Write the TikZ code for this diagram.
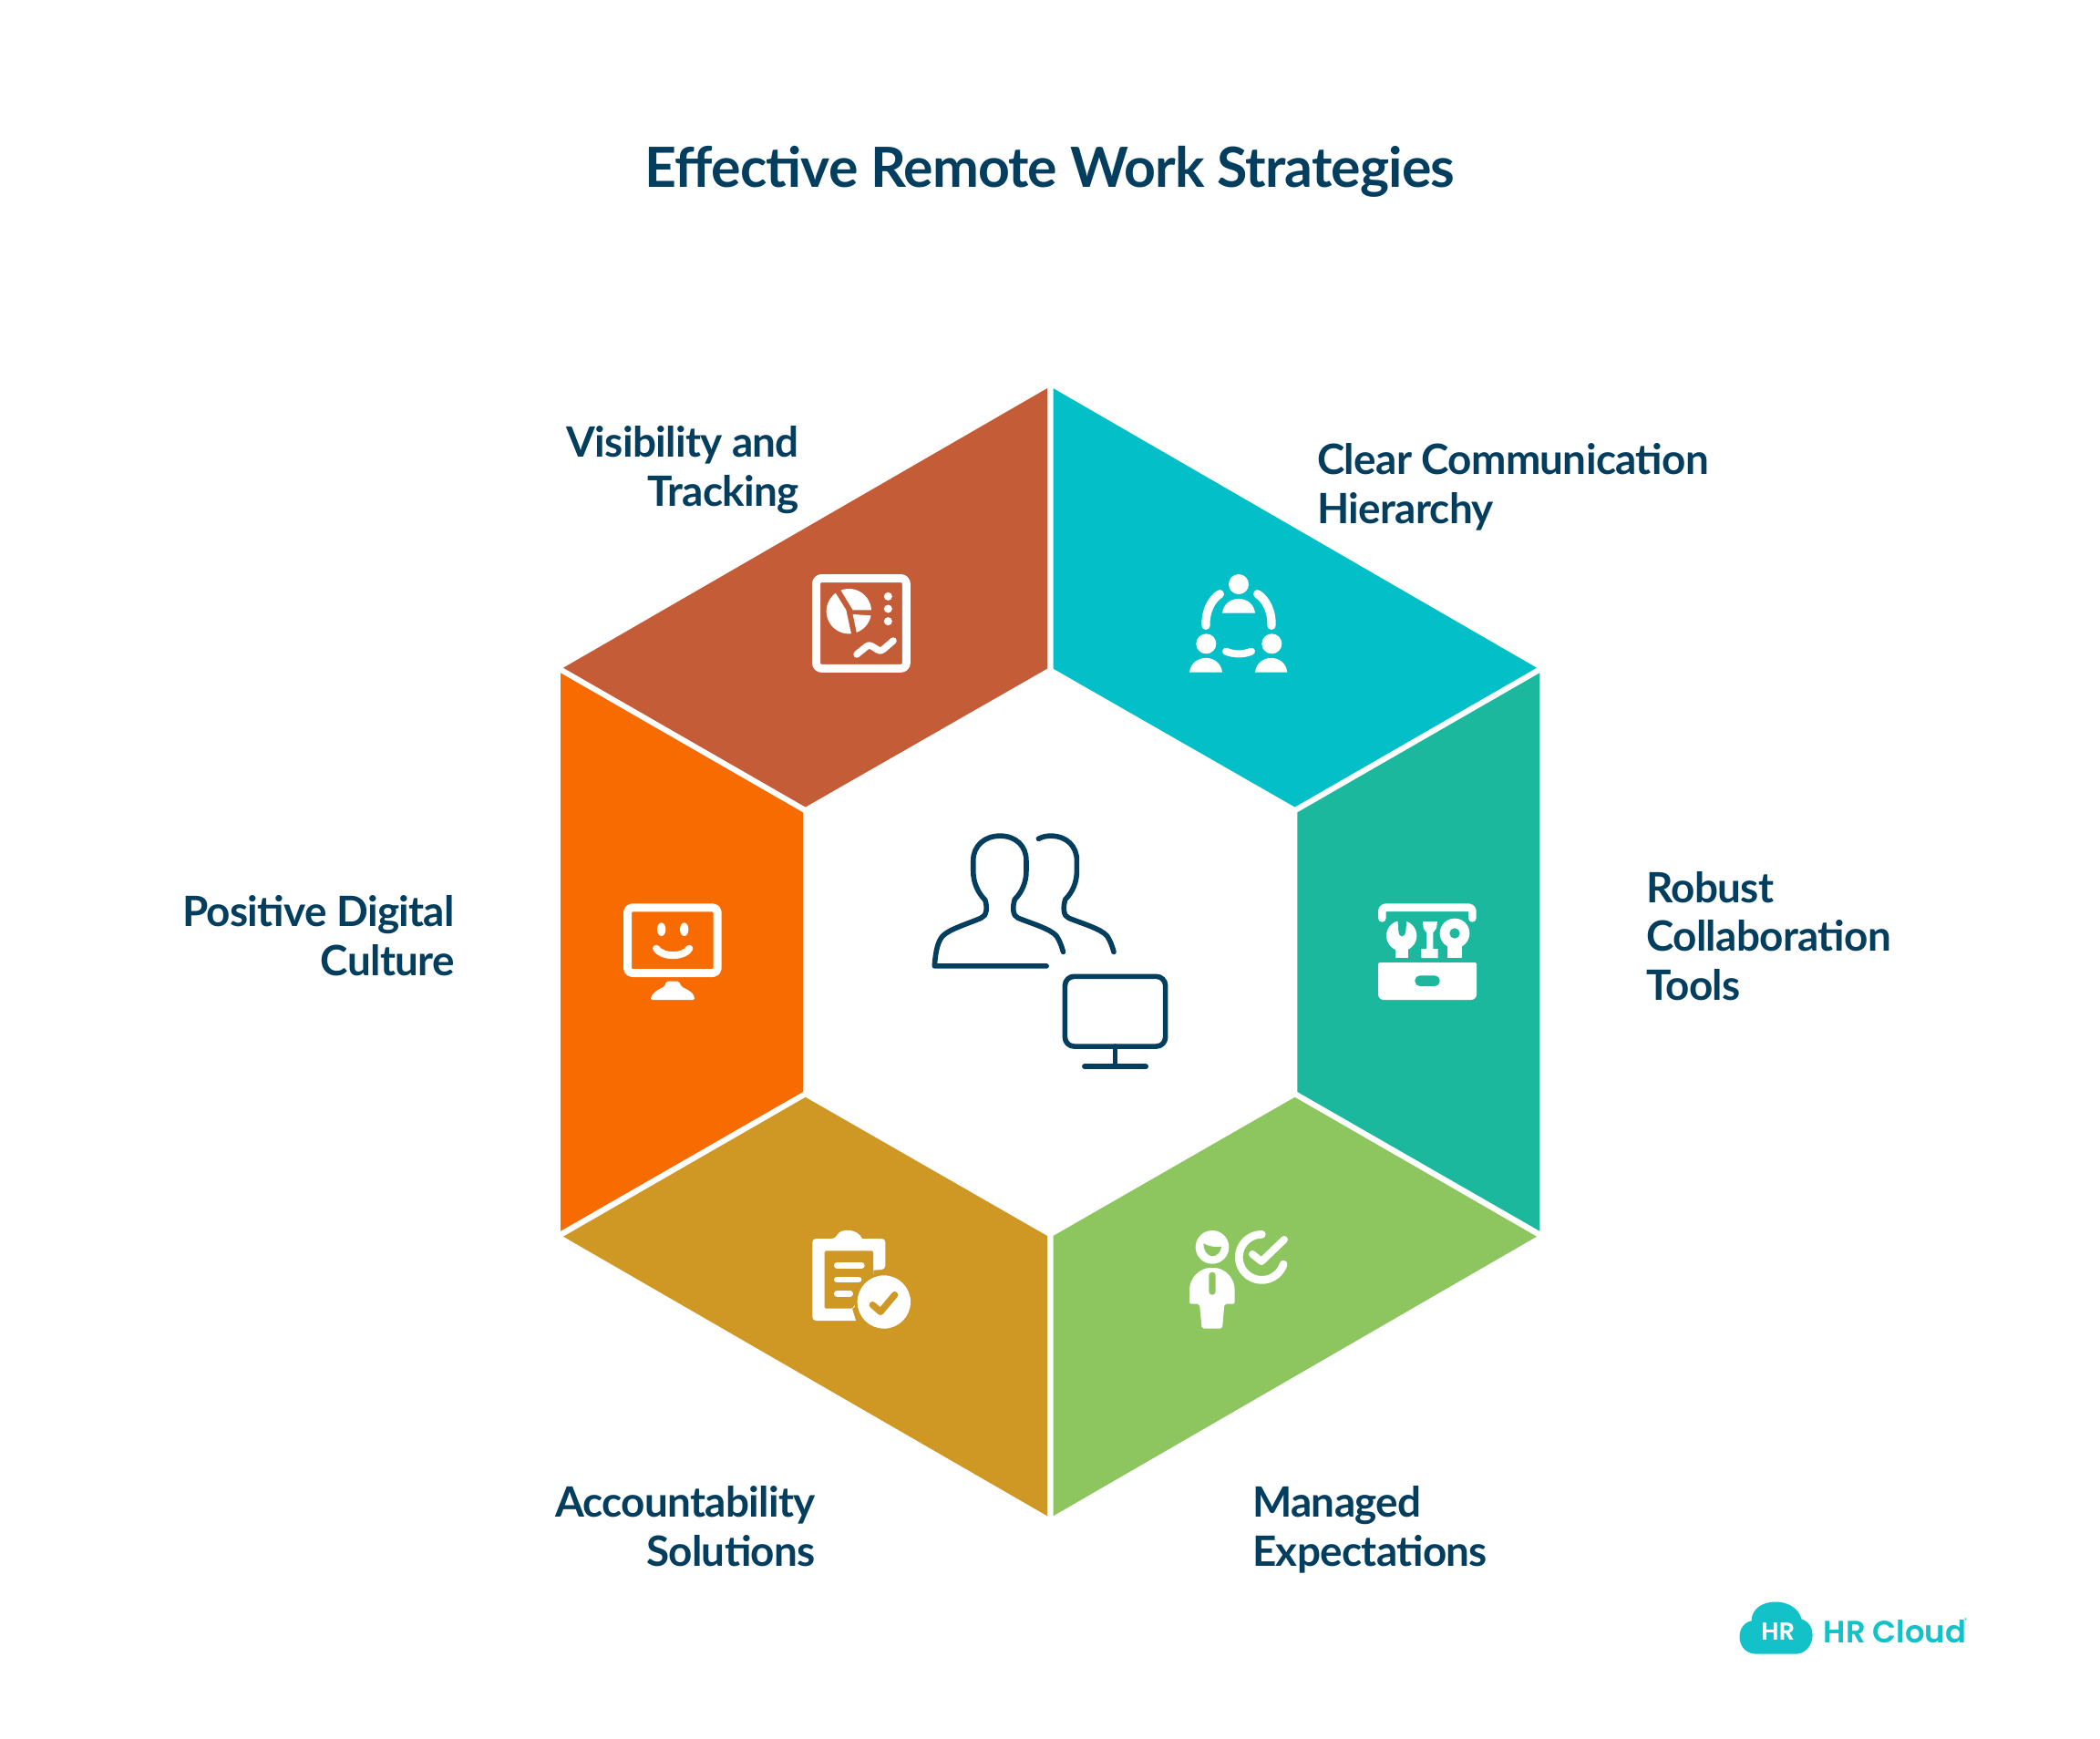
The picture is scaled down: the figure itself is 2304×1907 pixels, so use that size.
\documentclass[tikz,border=0pt]{standalone}
\usepackage{fontspec}
\setmainfont{Lato}[LetterSpace=-1.5]
\newfontfamily\logofont{Poppins}[BoldFont={Poppins SemiBold}]
\definecolor{navy}{HTML}{033E5E}
\definecolor{cBrown}{HTML}{C45C38}
\definecolor{cCyan}{HTML}{03BFC7}
\definecolor{cTeal}{HTML}{1BB89D}
\definecolor{cGreen}{HTML}{8DC55E}
\definecolor{cGold}{HTML}{CF9825}
\definecolor{cOrange}{HTML}{F76B00}
\definecolor{cLogo}{HTML}{12C2C8}
\tikzset{
  lab/.style={font=\fontsize{46}{54}\selectfont\bfseries,text=navy,inner sep=0pt},
  wl/.style={draw=white,line cap=round,line join=round},
  nl/.style={draw=navy,line width=5.6bp,line cap=round,line join=round},
}
\begin{document}
\begin{tikzpicture}[x=1bp,y=-1bp]
\useasboundingbox (0,0) rectangle (2304,1907);
\fill[white] (0,0) rectangle (2304,1907);
% wedges
\fill[cBrown] (1149,426) -- (1149,733.6) -- (883.7,885.5) -- (618,732.7) -- cycle;
\fill[cCyan] (1155.5,426) -- (1686,732.7) -- (1420.6,885.5) -- (1155.5,733.6) -- cycle;
\fill[cTeal] (1689.3,738.3) -- (1689.3,1350.7) -- (1423.3,1197.9) -- (1423.3,891.4) -- cycle;
\fill[cGreen] (1686,1356.7) -- (1155.5,1663.3) -- (1155.5,1356) -- (1420.6,1203.8) -- cycle;
\fill[cGold] (1149,1663.3) -- (1149,1356) -- (883.7,1203.8) -- (618,1356.7) -- cycle;
\fill[cOrange] (881,891.4) -- (881,1197.9) -- (615,1350.7) -- (615,738.3) -- cycle;
% title and labels
\node[font=\fontsize{61}{70}\selectfont\bfseries,text=navy,inner sep=0pt] (title) at (1152,188) {Effective Remote Work Strategies};
\node[lab,anchor=west,align=left] (l1) at (1445,534) {Clear Communication\\Hierarchy};
\node[lab,anchor=west,align=left] (l2) at (1806,1027) {Robust\\Collaboration\\Tools};
\node[lab,anchor=west,align=left] (l3) at (1374,1678) {Managed\\Expectations};
\node[lab,anchor=east,align=right] (l4) at (895,1675) {Accountability\\Solutions};
\node[lab,anchor=east,align=right] (l5) at (499,1027) {Positive Digital\\Culture};
\node[lab,anchor=east,align=right] (l6) at (877,516) {Visibility and\\Tracking};
% centre icon
\begin{scope}[shift={(860,600)},x=0.38265bp,y=0.39541bp*-1]
\draw[nl] (753,1163) -- (432,1163) .. controls (435,1120) and (442,1095) .. (455,1080) .. controls (475,1060) and (530,1045) .. (565,1030) .. controls (582,1025) and (584,1000) .. (577,980) .. controls (555,958) and (543,930) .. (543,900) -- (543,870) .. controls (543,830) and (575,802) .. (620,802) .. controls (665,802) and (695,830) .. (695,870) -- (695,900) .. controls (695,930) and (683,958) .. (662,978) .. controls (655,1000) and (656,1025) .. (672,1030) .. controls (710,1045) and (765,1060) .. (782,1080) .. controls (792,1095) and (797,1110) .. (801,1124);
\draw[nl] (730,810) .. controls (742,804) and (753,802) .. (765,802) .. controls (810,802) and (840,830) .. (840,870) -- (840,900) .. controls (840,930) and (828,958) .. (807,978) .. controls (800,1000) and (801,1025) .. (817,1030) .. controls (855,1045) and (910,1060) .. (927,1080) .. controls (937,1095) and (942,1110) .. (946,1124);
\draw[nl,rounded corners=10bp] (806,1192) rectangle (1094,1386);
\draw[nl] (950,1386) -- (950,1442);
\draw[nl] (862,1442) -- (1038,1442);
\end{scope}
% brown icon
\begin{scope}[shift={(860,610)},x=0.33333bp,y=-0.33333bp]
\draw[wl,line width=9bp,rounded corners=6bp] (106.5,73.5) rectangle (403,370);
\fill[white] (205,178) -- plot[domain=234:84,samples=30] ({214+74*cos(\x)},{182+74*sin(\x)}) -- cycle;
\fill[white] (227,178) -- plot[domain=249:357,samples=30] ({214+74*cos(\x)},{182+74*sin(\x)}) -- cycle;
\fill[white] (227,192) -- plot[domain=11:70,samples=20] ({214+74*cos(\x)},{182+74*sin(\x)}) -- cycle;
\fill[white] (343,133) circle[radius=13.5] (343,174) circle[radius=13.5] (343,215) circle[radius=13.5];
\draw[wl,line width=7.5bp] plot[smooth,tension=.6] coordinates {(240,324) (262,306) (280,294) (298,302) (318,312) (338,298) (360,279)};
\end{scope}
% cyan icon
\begin{scope}[shift={(1280,610)},x=0.33333bp,y=-0.33333bp]
\fill[white] (237,93) circle[radius=33] (130,289) circle[radius=33] (346,289) circle[radius=33];
\fill[white] (183,188) .. controls (190,125) and (284,125) .. (291,188) -- cycle;
\fill[white] (75,383) .. controls (82,320) and (176,320) .. (183,383) -- cycle;
\fill[white] (291,383) .. controls (298,320) and (390,320) .. (397,383) -- cycle;
\draw[wl,line width=9.3bp] (129,229) .. controls (127,185) and (145,145) .. (175,125);
\draw[wl,line width=9.3bp] (345,229) .. controls (347,185) and (329,145) .. (299,125);
\draw[wl,line width=8bp] (195,314) .. controls (222,325) and (252,325) .. (279,314);
\end{scope}
% teal icon
\begin{scope}[shift={(1490,970)},x=0.33333bp,y=-0.33333bp]
\draw[wl,line width=8.7bp,rounded corners=4bp] (79,112) -- (79,77) -- (376,77) -- (376,112);
\fill[white,rounded corners=1.5bp] (66,258) -- (390,258) -- (390,300) [rounded corners=6bp] -- (390,381) -- (66,381) [rounded corners=1.5bp] -- cycle;
\fill[cTeal,rounded corners=5.5bp] (187,301) rectangle (269,336);
\fill[white] (143,170) circle[radius=50];
\fill[white] (124,200) rectangle (164,243);
\fill[cTeal] (130,115) -- (133,155) .. controls (135,178) and (153,178) .. (157,155) -- (160,115) -- cycle;
\fill[white] (213,123) -- (261,123) -- (258,145) -- (247,160) -- (247,213) -- (263,213) -- (263,243) -- (208,243) -- (208,213) -- (225,213) -- (225,160) -- (215,145) -- cycle;
\fill[white] (318,162) circle[radius=49];
\fill[white] (295,195) rectangle (343,243);
\fill[cTeal] (318,162) circle[radius=17];
\end{scope}
% green icon
\begin{scope}[shift={(1280,1330)},x=0.33333bp,y=-0.33333bp]
\fill[white] (150,115) circle[radius=55];
\fill[cGreen] (121,103) .. controls (138,112) and (160,117) .. (180,113) .. controls (180,130) and (165,145) .. (150,145) .. controls (135,145) and (120,125) .. (121,103) -- cycle;
\fill[white,rounded corners=2bp] (75,302) -- (75,262) .. controls (75,215) and (110,183) .. (150,183) .. controls (190,183) and (224,215) .. (224,262) -- (224,302) -- (190,302) -- (183,383) -- (116,383) -- (108,302) -- cycle;
\fill[cGreen,rounded corners=3.6bp] (139,197) rectangle (161,272);
\draw[wl,line width=8.7bp] plot[domain=270:18,samples=50] ({313+75*cos(\x)},{148+75*sin(\x)});
\draw[wl,line width=8bp] (282,138) -- (312,162) -- (387,90);
\end{scope}
% gold icon
\begin{scope}[shift={(870,1330)},x=0.33333bp,y=-0.33333bp]
\fill[white,rounded corners=4bp] (64,87) -- (140,87) [sharp corners] .. controls (155,52) and (212,52) .. (228,87) [rounded corners=4bp] -- (304,87) -- (304,188) [sharp corners] -- (265,191) -- (265,270) -- (195,317) -- (207,357) [rounded corners=4bp] -- (64,357) -- cycle;
\fill[cGold,rounded corners=1.5bp] (104,127) -- (264,127) -- (264,220) -- (195,317) -- (104,317) -- cycle;
\fill[cGold] (299.5,295.5) circle[radius=97];
\draw[wl,line width=6.7bp] (145,175) -- (226,175);
\draw[wl,line width=6.7bp] (145,222) -- (216,222);
\draw[wl,line width=6.7bp] (145,268) -- (188,268);
\fill[white] (299.5,295.5) circle[radius=87.5];
\draw[draw=cGold,line cap=round,line join=round,line width=7.3bp] (262,305) -- (288,328) -- (335,272);
\end{scope}
% orange icon
\begin{scope}[shift={(660,970)},x=0.33333bp,y=-0.33333bp]
\draw[wl,line width=9bp,rounded corners=5bp] (85.5,77.5) rectangle (381.5,292.5);
\fill[white] (197,149) ellipse[x radius=14,y radius=22] (272,149) ellipse[x radius=14,y radius=22];
\draw[wl,line width=8bp] (180,212) .. controls (200,242) and (270,242) .. (289,212);
\fill[white,rounded corners=2bp] (162,381) -- (162,372) .. controls (175,352) and (195,342) .. (208,338) -- (212,320) -- (256,320) -- (262,338) .. controls (280,345) and (298,355) .. (306,372) -- (306,381) -- cycle;
\end{scope}
% logo
\begin{scope}[shift={(1890,1740)},x=0.33333bp,y=-0.33333bp]
\fill[cLogo] (110,224) .. controls (40,222) and (40,125) .. (95,115) .. controls (95,35) and (240,30) .. (260,110) .. controls (315,125) and (305,222) .. (240,224) -- cycle;
\end{scope}
\node[font=\logofont\fontsize{27}{27}\selectfont\bfseries,text=white,inner sep=0pt] (hr) at (1950.7,1790) {HR};
\node[font=\logofont\fontsize{34}{34}\selectfont\bfseries,text=cLogo,inner sep=0pt,anchor=west] (hrc) at (2000.5,1790) {HR Cloud};
\node[font=\logofont\fontsize{7}{7}\selectfont,text=cLogo,inner sep=0pt] (reg) at (2156.5,1778) {®};
\end{tikzpicture}
\end{document}
